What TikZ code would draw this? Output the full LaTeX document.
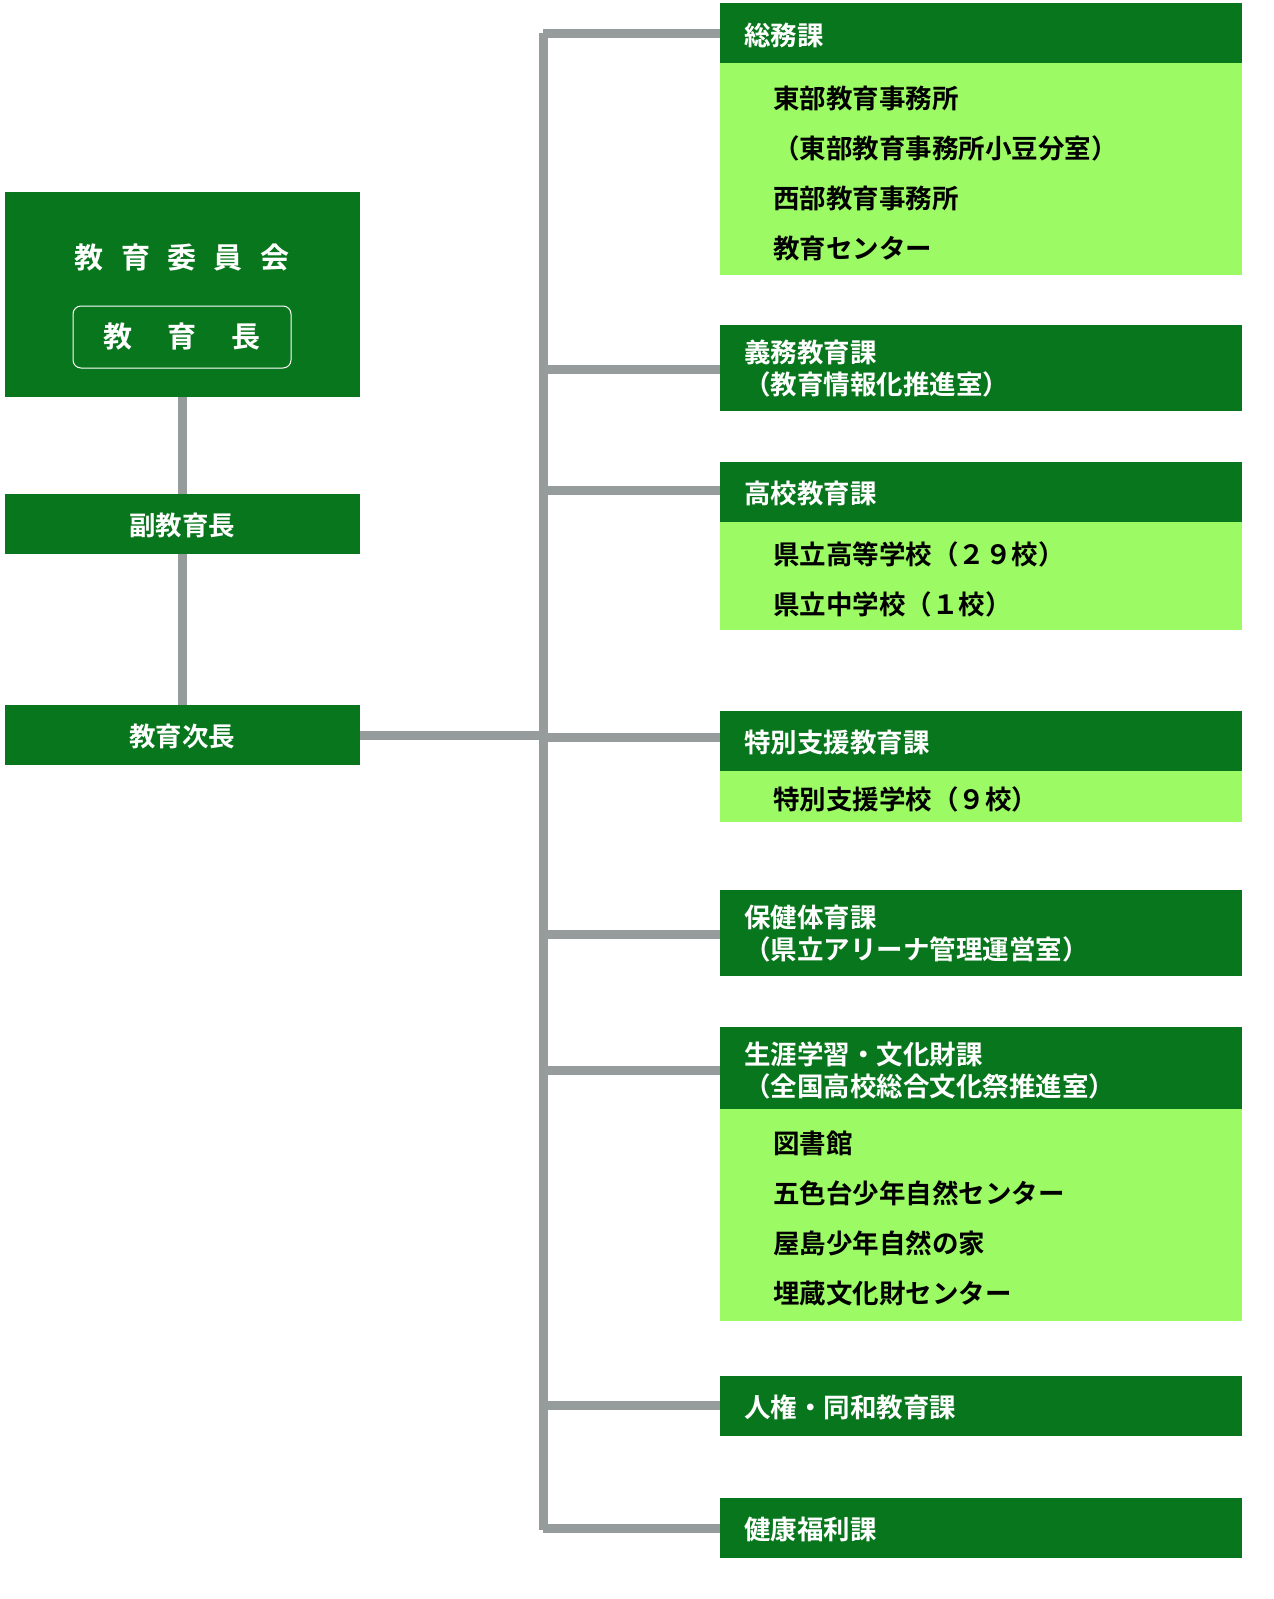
\documentclass[tikz,border=0pt]{standalone}
\usepackage{fontspec}
\setmainfont{Noto Sans CJK JP}[BoldFont={Noto Sans CJK JP Bold}]
\definecolor{dg}{RGB}{8,118,28}
\definecolor{lg}{RGB}{156,250,100}
\definecolor{gl}{RGB}{150,155,155}
\begin{document}
\begin{tikzpicture}[x=1pt,y=-1pt,
 hd/.style={font=\bfseries\fontsize{26.5}{32}\selectfont,text=white,anchor=west,align=left,inner sep=0},
 it/.style={font=\bfseries\fontsize{26.5}{32}\selectfont,text=black,anchor=west,inner sep=0},
 ln/.style={gl,line width=9pt}]
\useasboundingbox (0,0) rectangle (1274,1599);
% left boxes
\fill[dg] (5,192) rectangle (360,397);
\node[text=white,font=\bfseries\fontsize{29}{30}\selectfont] (iinkai) at (182,258) {教\hspace{0.6em}育\hspace{0.6em}委\hspace{0.6em}員\hspace{0.6em}会};
\draw[white,rounded corners=8pt,line width=1pt] (73,306) rectangle (291,368);
\node[text=white,font=\bfseries\fontsize{29}{30}\selectfont] (kyoikucho) at (182,337) {教\hspace{1.2em}育\hspace{1.2em}長};
\fill[dg] (5,494) rectangle (360,554);
\node[text=white,font=\bfseries\fontsize{26.5}{30}\selectfont] (fuku) at (182,525) {副教育長};
\fill[dg] (5,705) rectangle (360,765);
\node[text=white,font=\bfseries\fontsize{26.5}{30}\selectfont] (jicho) at (182,736) {教育次長};
\draw[ln] (182,397) -- (182,494);
\draw[ln] (182,554) -- (182,705);
\draw[ln] (360,735) -- (543,735);
\draw[ln] (543,33) -- (543,1530);
\foreach \y in {33,369,490,737,934,1070,1405,1528} \draw[ln] (543,\y) -- (720,\y);
% right boxes
\fill[dg] (720,3) rectangle (1242,63);
\fill[lg] (720,63) rectangle (1242,275);
\node[hd] (a) at (744,35) {総務課};
\node[it] (a1) at (773,98) {東部教育事務所};
\node[it] (a2) at (773,148) {（東部教育事務所小豆分室）};
\node[it] (a3) at (773,198) {西部教育事務所};
\node[it] (a4) at (773,248) {教育センター};
\fill[dg] (720,325) rectangle (1242,411);
\node[hd] (b) at (744,369) {義務教育課\\（教育情報化推進室）};
\fill[dg] (720,462) rectangle (1242,522);
\fill[lg] (720,522) rectangle (1242,630);
\node[hd] (c) at (744,493) {高校教育課};
\node[it] (c1) at (773,554) {県立高等学校（２９校）};
\node[it] (c2) at (773,604) {県立中学校（１校）};
\fill[dg] (720,711) rectangle (1242,771);
\fill[lg] (720,771) rectangle (1242,822);
\node[hd] (d) at (744,742) {特別支援教育課};
\node[it] (d1) at (773,799) {特別支援学校（９校）};
\fill[dg] (720,890) rectangle (1242,976);
\node[hd] (e) at (744,934) {保健体育課\\（県立アリーナ管理運営室）};
\fill[dg] (720,1027) rectangle (1242,1109);
\fill[lg] (720,1109) rectangle (1242,1321);
\node[hd] (f) at (744,1070) {生涯学習・文化財課\\（全国高校総合文化祭推進室）};
\node[it] (f1) at (773,1143) {図書館};
\node[it] (f2) at (773,1193) {五色台少年自然センター};
\node[it] (f3) at (773,1243) {屋島少年自然の家};
\node[it] (f4) at (773,1293) {埋蔵文化財センター};
\fill[dg] (720,1376) rectangle (1242,1436);
\node[hd] (g) at (744,1407) {人権・同和教育課};
\fill[dg] (720,1498) rectangle (1242,1558);
\node[hd] (h) at (744,1529) {健康福利課};
\end{tikzpicture}
\end{document}
